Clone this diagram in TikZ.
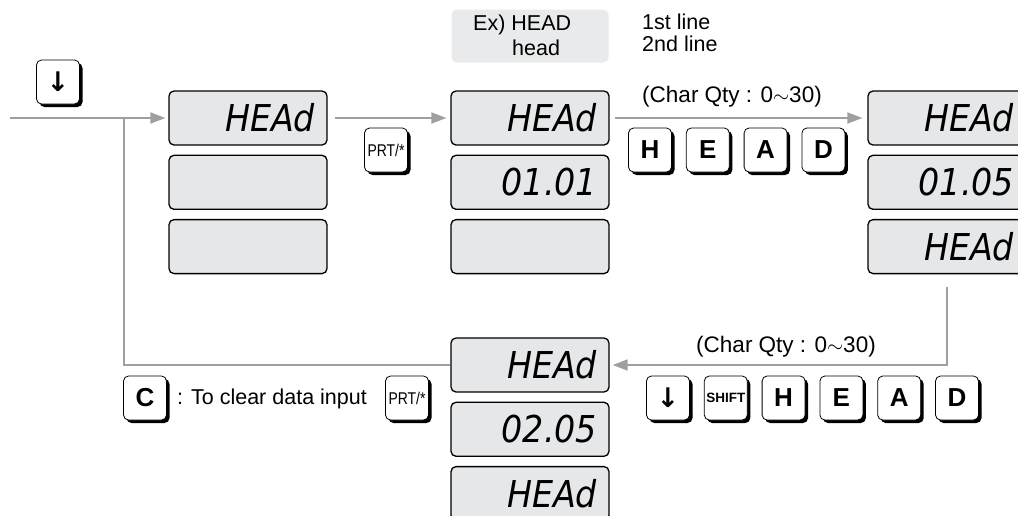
\documentclass[tikz,border=0pt]{standalone}
\usepackage{fontspec}
\setmainfont{Liberation Sans}
\newfontfamily\lcdfont{DejaVu Sans Condensed}
\newfontfamily\symfont{DejaVu Sans}
\newfontfamily\narrowfont[FakeStretch=0.82]{Liberation Sans}
\usetikzlibrary{positioning, arrows.meta, shadows}

\definecolor{lcdgray}{HTML}{E6E7E8}
\definecolor{exgray}{HTML}{E9EAEB}
\definecolor{linegray}{HTML}{9D9FA2}

\tikzset{
  lcd/.style={draw, rounded corners=5pt, fill=lcdgray, line width=1.3pt, minimum width=158pt, minimum height=54pt,
    text width=134pt, inner xsep=12pt, inner ysep=0pt, align=right, font=\lcdfont\itshape\fontsize{37}{37}\selectfont},
  keycap/.style={draw, fill=white, rounded corners=5pt, line width=0.8pt, minimum width=43pt, minimum height=44pt,
    inner sep=0pt, drop shadow={shadow xshift=3pt, shadow yshift=-3pt, opacity=1, fill=black},
    font=\bfseries\fontsize{26}{26}\selectfont},
  arrowkey/.style={keycap, font=\symfont\bfseries\fontsize{27}{27}\selectfont},
  prtkey/.style={keycap, font=\narrowfont\fontsize{17}{17}\selectfont},
  label/.style={inner sep=0pt, font=\fontsize{21.5}{21.5}\selectfont},
  conn/.style={draw=linegray, line width=1.8pt},
  tip/.style={-{Triangle[length=15pt, width=11pt, fill=linegray]}},
}

\begin{document}
\begin{tikzpicture}[x=1pt, y=-1pt]
  \useasboundingbox (0,0) rectangle (1018,515);
  \clip (0,0) rectangle (1018,515);

  % example box and line notes
  \node[fill=exgray, rounded corners=5pt, minimum width=157pt, minimum height=53pt] (ex) at (530,36) {};
  \node[label, anchor=west] (exup) at (473,25) {Ex) HEAD};
  \node[label, anchor=west] (exlow) at (512,48) {head};
  \node[label, anchor=west] (line1) at (642,22) {1st line};
  \node[label, anchor=west] (line2) at (642,44) {2nd line};

  % displays
  \node[lcd] (a1) at (248,118) {HEAd};
  \node[lcd, below=9pt of a1] (a2) {};
  \node[lcd, below=9pt of a2] (a3) {};

  \node[lcd] (b1) at (530,118) {HEAd};
  \node[lcd, below=9pt of b1] (b2) {01.01};
  \node[lcd, below=9pt of b2] (b3) {};

  \node[lcd] (c1) at (947,118) {HEAd};
  \node[lcd, below=9pt of c1] (c2) {01.05};
  \node[lcd, below=9pt of c2] (c3) {HEAd};

  \node[lcd] (d1) at (530,365) {HEAd};
  \node[lcd, below=9pt of d1] (d2) {02.05};
  \node[lcd, below=9pt of d2] (d3) {HEAd};

  % keys
  \node[arrowkey] (kdown) at (58,82) {↓};
  \node[prtkey] (kprt) at (386,150) {PRT/*};

  \node[keycap] (kh) at (650,150) {H};
  \node[keycap, right=14pt of kh] (ke) {E};
  \node[keycap, right=14pt of ke] (ka) {A};
  \node[keycap, right=14pt of ka] (kd) {D};

  \node[arrowkey] (kdown2) at (668,398) {↓};
  \node[keycap, right=14pt of kdown2, font=\bfseries\fontsize{13.5}{13.5}\selectfont] (kshift) {SHIFT};
  \node[keycap, right=14pt of kshift] (kh2) {H};
  \node[keycap, right=14pt of kh2] (ke2) {E};
  \node[keycap, right=14pt of ke2] (ka2) {A};
  \node[keycap, right=14pt of ka2] (kd2) {D};

  \node[keycap] (kclr) at (145,398) {C};
  \node[label, anchor=west] (clrnote) at (177,399) {: To clear data input};
  \node[prtkey] (kprt2) at (407,398) {PRT/*};

  \node[label, font=\fontsize{22.5}{22.5}\selectfont] (qty1) at (732,97) {(Char Qty : 0$\sim$30)};
  \node[label, font=\fontsize{22.5}{22.5}\selectfont] (qty2) at (786,347) {(Char Qty : 0$\sim$30)};

  % connectors
  \coordinate (start) at (10,118);
  \coordinate (split) at (124,118);
  \draw[conn, tip, shorten >=3pt] (start) -- (a1.west);
  \draw[conn] (d1.west) -| (split);
  \draw[conn, tip, shorten <=7pt, shorten >=4pt] (a1.east) -- (b1.west);
  \draw[conn, tip, shorten <=5pt, shorten >=5pt] (b1.east) -- (c1.west);
  \draw[conn, tip, shorten <=13pt, shorten >=3pt] (c3.south) |- (d1.east);
\end{tikzpicture}
\end{document}
